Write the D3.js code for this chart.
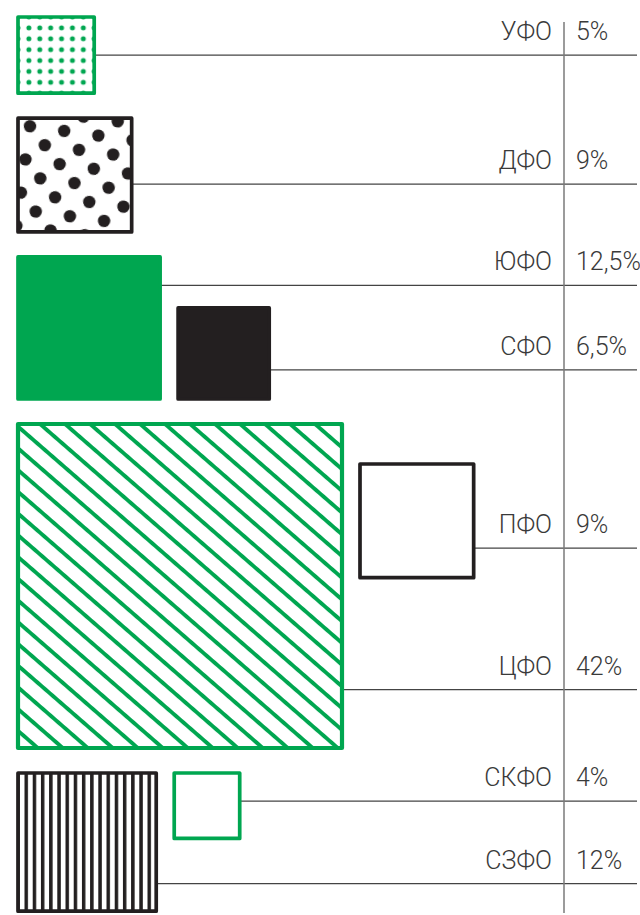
<!DOCTYPE html>
<html>
<head>
<meta charset="utf-8">
<script src="https://cdn.jsdelivr.net/npm/d3@7"></script>
<style>
  html, body { margin: 0; padding: 0; background: #fff; }
  svg { display: block; }
  .lbl { font-family: Roboto, "Noto Sans", sans-serif; font-weight: 300; font-size: 25px; fill: #3a3a3a; }
</style>
</head>
<body>
<div id="chart"></div>
<script>
// ---- data ----
const districts = ['УФО', 'ДФО', 'ЮФО', 'СФО', 'ПФО', 'ЦФО', 'СКФО', 'СЗФО'];
const shares = [5, 9, 12.5, 6.5, 9, 42, 4, 12];
const shareLabels = ['5%', '9%', '12,5%', '6,5%', '9%', '42%', '4%', '12%'];

// ---- layout / style config ----
const fills = ['greenDots', 'blackDots', 'green', 'black', 'whiteBlack', 'greenHatch', 'whiteGreen', 'blackStripes'];
const rows = [[0], [1], [2, 3], [5, 4], [7, 6]];        // main square first, companion second
const rowAlign = ['top', 'top', 'bottom', 'offset', 'top'];
const anchors = [0.5, 0.58, 0.2, 0.68, 0.74, 0.82, 0.43, 0.8]; // leader line height within square

const W = 640, H = 915;
const green = '#00a650', black = '#231f20';
const left = 18, top0 = 17, rowGap = 25, colGap = 18;
const divX = 564, lineEnd = 637;

const side = d3.scalePow().exponent(0.68)
  .domain([0, d3.max(shares)])
  .range([0, 324]);

// stack rows top to bottom
const boxes = [];
let y = top0;
rows.forEach((row, r) => {
  const m = row[0], sm = side(shares[m]);
  boxes[m] = { x: left, y: y, s: sm };
  if (row[1] != null) {
    const j = row[1], s = side(shares[j]);
    const yy = rowAlign[r] === 'bottom' ? y + sm - s
      : rowAlign[r] === 'offset' ? y + 40 : y;
    boxes[j] = { x: left + sm + colGap, y: yy, s: s };
  }
  y += sm + rowGap;
});

const items = districts.map((d, i) => Object.assign({
  name: d, value: shares[i], label: shareLabels[i], fill: fills[i],
  lineY: boxes[i].y + anchors[i] * boxes[i].s
}, boxes[i]));

const svg = d3.select('#chart').append('svg')
  .attr('width', W).attr('height', H);
const defs = svg.append('defs');

// ---- patterns, one per square so they line up with its corner ----
function patternFor(d, i) {
  const id = 'pat' + i;
  if (d.fill === 'greenDots') {
    const step = d.s / 7;
    const p = defs.append('pattern').attr('id', id)
      .attr('patternUnits', 'userSpaceOnUse')
      .attr('width', step).attr('height', step)
      .attr('patternTransform', `translate(${d.x},${d.y})`);
    [[0, 0], [step, 0], [0, step], [step, step]].forEach(c =>
      p.append('circle').attr('cx', c[0]).attr('cy', c[1]).attr('r', 2.5).attr('fill', green));
    return `url(#${id})`;
  }
  if (d.fill === 'blackDots') {
    const pw = 34.5, ph = 33.5;
    const p = defs.append('pattern').attr('id', id)
      .attr('patternUnits', 'userSpaceOnUse')
      .attr('width', pw).attr('height', ph)
      .attr('patternTransform', `translate(${d.x + 12},${d.y + 8}) rotate(7.8)`);
    [[0, 0], [pw, 0], [0, ph], [pw, ph], [pw / 2, ph / 2]].forEach(c =>
      p.append('circle').attr('cx', c[0]).attr('cy', c[1]).attr('r', 6.2).attr('fill', black));
    return `url(#${id})`;
  }
  if (d.fill === 'greenHatch') {
    const gap = 16.4;
    const p = defs.append('pattern').attr('id', id)
      .attr('patternUnits', 'userSpaceOnUse')
      .attr('width', 10).attr('height', gap)
      .attr('patternTransform', `translate(${d.x},${d.y}) rotate(41)`);
    p.append('rect').attr('x', 0).attr('y', 0).attr('width', 10).attr('height', 3.9).attr('fill', green);
    return `url(#${id})`;
  }
  if (d.fill === 'blackStripes') {
    const gap = 8.2;
    const p = defs.append('pattern').attr('id', id)
      .attr('patternUnits', 'userSpaceOnUse')
      .attr('width', gap).attr('height', 10)
      .attr('patternTransform', `translate(${d.x - 1.7},${d.y})`);
    p.append('rect').attr('x', 0).attr('y', 0).attr('width', 3.5).attr('height', 10).attr('fill', black);
    return `url(#${id})`;
  }
  return null;
}

const solid = { green: green, black: black, whiteBlack: '#fff', whiteGreen: '#fff' };
const strokeCol = {
  greenDots: green, blackDots: black, green: green, black: black,
  whiteBlack: black, greenHatch: green, whiteGreen: green, blackStripes: black
};

// leader lines
svg.append('g')
  .selectAll('line')
  .data(items)
  .join('line')
  .attr('x1', d => d.x + d.s)
  .attr('x2', lineEnd)
  .attr('y1', d => d.lineY)
  .attr('y2', d => d.lineY)
  .attr('stroke', '#444')
  .attr('stroke-width', 1.3);

// divider between names and values
svg.append('line')
  .attr('x1', divX).attr('x2', divX)
  .attr('y1', 22).attr('y2', 913)
  .attr('stroke', '#7a7a7a')
  .attr('stroke-width', 1.5);

// squares
const sq = svg.append('g')
  .selectAll('g')
  .data(items)
  .join('g');

sq.append('rect')
  .attr('x', d => d.x).attr('y', d => d.y)
  .attr('width', d => d.s).attr('height', d => d.s)
  .attr('fill', '#fff');

sq.append('rect')
  .attr('x', d => d.x).attr('y', d => d.y)
  .attr('width', d => d.s).attr('height', d => d.s)
  .attr('fill', (d, i) => solid[d.fill] || patternFor(d, i))
  .attr('stroke', d => strokeCol[d.fill])
  .attr('stroke-width', d => d.fill === 'greenHatch' ? 4.2 : 3.7)
  .attr('stroke-linejoin', 'round');

// labels
svg.append('g')
  .selectAll('text')
  .data(items)
  .join('text')
  .attr('class', 'lbl')
  .attr('x', divX - 12)
  .attr('y', d => d.lineY - 15)
  .attr('text-anchor', 'end')
  .text(d => d.name);

svg.append('g')
  .selectAll('text')
  .data(items)
  .join('text')
  .attr('class', 'lbl')
  .attr('x', divX + 12)
  .attr('y', d => d.lineY - 15)
  .text(d => d.label);
</script>
</body>
</html>
